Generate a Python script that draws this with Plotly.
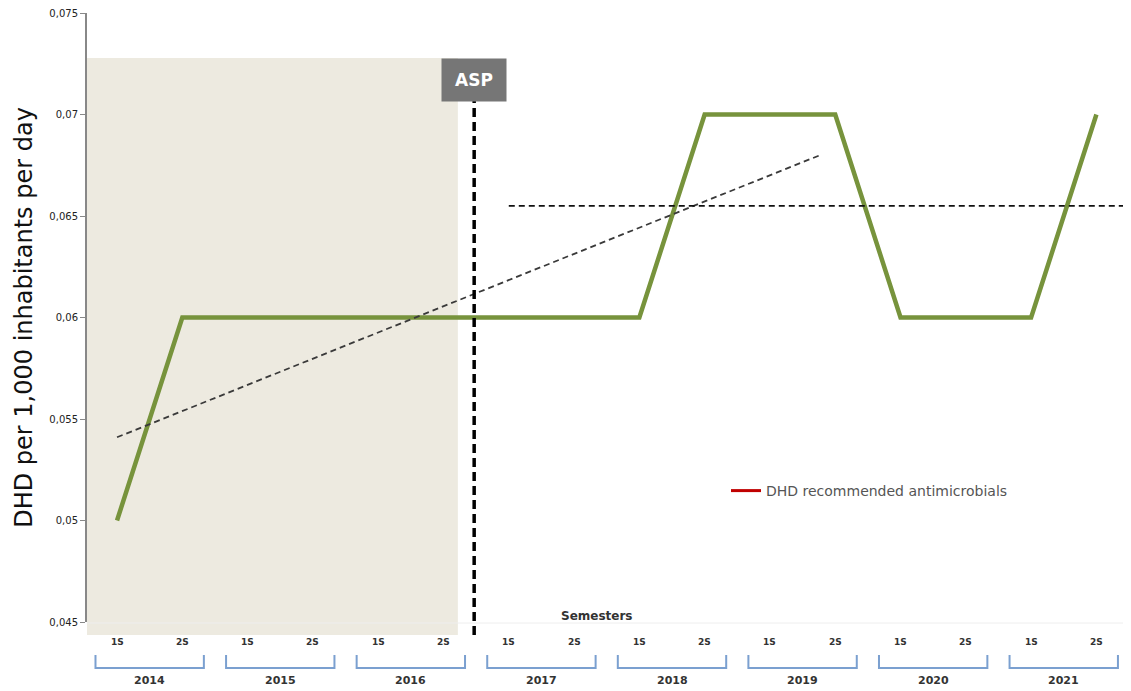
import plotly.graph_objects as go

years = ["2014", "2015", "2016", "2017", "2018", "2019", "2020", "2021"]
semesters = ["1S", "2S"]
dhd = [0.050, 0.060, 0.060, 0.060, 0.060, 0.060, 0.060, 0.060,
       0.060, 0.070, 0.070, 0.070, 0.060, 0.060, 0.060, 0.070]
y_ticks = [0.045, 0.05, 0.055, 0.06, 0.065, 0.07, 0.075]
y_ticktext = ["0,045", "0,05", "0,055", "0,06", "0,065", "0,07", "0,075"]
trend_x = [0, 10.77]
trend_y = [0.0541, 0.0680]
threshold_x = [6, 15.6]
threshold_y = [0.0655, 0.0655]
asp_x = 5.47
shade_x = [-0.46, 5.22]

OFF = 8  # default page body margin
W, H = 1131 - OFF, 691 - OFF
L, R, T, B = 87 - OFF, 0, 13 - OFF, 69
PH = H - T - B
PW = W - L - R

def py(px):
    return (H - B - (px - OFF)) / PH

def pxx(px):
    return (px - OFF - L) / PW

idx = list(range(len(dhd)))
FONT = "DejaVu Sans"

fig = go.Figure()
fig.add_trace(go.Scatter(x=idx, y=dhd, mode="lines",
                         line=dict(color="#77933C", width=4.5),
                         showlegend=False, hoverinfo="skip"))
fig.add_trace(go.Scatter(x=trend_x, y=trend_y, mode="lines",
                         line=dict(color="#3a3a3a", width=1.8, dash="6px,4px"),
                         showlegend=False))
fig.add_trace(go.Scatter(x=threshold_x, y=threshold_y, mode="lines",
                         line=dict(color="#111111", width=1.6, dash="6px,4px"),
                         showlegend=False))
fig.add_trace(go.Scatter(x=[None], y=[None], mode="lines",
                         line=dict(color="#C00000", width=3),
                         name="DHD recommended antimicrobials"))

shapes = []
shapes.append(dict(type="rect", xref="x", yref="paper", x0=shade_x[0], x1=shade_x[1],
                   y0=py(635), y1=py(58), fillcolor="#EDEAE0", line=dict(width=0), layer="below"))
shapes.append(dict(type="line", xref="x", yref="paper", x0=asp_x, x1=asp_x,
                   y0=py(635), y1=py(101), line=dict(color="black", width=3.5, dash="9px,5px")))
shapes.append(dict(type="line", xref="paper", yref="paper", x0=0, x1=1, y0=py(623), y1=py(623),
                   line=dict(color="#EEEEEE", width=1)))

annotations = []
for i, yr in enumerate(years):
    c = 2 * i + 0.5
    x0, x1 = c - 0.83, c + 0.83
    yt, yb = py(655), py(668)
    shapes.append(dict(type="path", xref="x", yref="paper",
                       path=f"M {x0},{yt} L {x0},{yb} L {x1},{yb} L {x1},{yt}",
                       line=dict(color="#7BA0D0", width=2)))
    annotations.append(dict(x=c, y=py(680), xref="x", yref="paper", text=f"<b>{yr}</b>",
                            xanchor="center", yanchor="middle",
                            showarrow=False, font=dict(size=11, color="#333333", family=FONT)))
    for j, s in enumerate(semesters):
        annotations.append(dict(x=2 * i + j, y=py(642), xref="x", yref="paper", text=f"<b>{s}</b>",
                                xanchor="center", yanchor="middle",
                                showarrow=False, font=dict(size=9, color="#333333", family=FONT)))

annotations.append(dict(x=asp_x, y=py(80), xref="x", yref="paper", text="<b>ASP</b>",
                        xanchor="center", yanchor="middle",
                        showarrow=False, bgcolor="#767676", width=62, height=40,
                        font=dict(size=17, color="white", family=FONT)))
annotations.append(dict(x=7.35, y=py(616), xref="x", yref="paper", text="<b>Semesters</b>",
                        xanchor="center", yanchor="middle",
                        showarrow=False, font=dict(size=12, color="#333333", family=FONT)))

fig.update_layout(
    width=W, height=H,
    margin=dict(l=L, r=R, t=T, b=B),
    paper_bgcolor="white", plot_bgcolor="white",
    shapes=shapes, annotations=annotations,
    legend=dict(x=pxx(726), y=py(491), xanchor="left", yanchor="middle",
                font=dict(size=14, color="#555555", family=FONT),
                bgcolor="rgba(0,0,0,0)"),
    xaxis=dict(range=[-0.46, 15.53], showticklabels=False, showgrid=False,
               zeroline=False, showline=False, ticks="", automargin=False),
    yaxis=dict(range=[0.045, 0.075], tickvals=y_ticks, ticktext=y_ticktext, showgrid=False,
               zeroline=False, showline=True, linecolor="#888888", linewidth=2,
               ticks="outside", ticklen=5, tickcolor="#888888", automargin=False,
               ticklabeloverflow="allow",
               tickfont=dict(size=10, color="#222222", family=FONT),
               title=dict(text="DHD per 1,000 inhabitants per day",
                          font=dict(size=24, color="#111111", family=FONT), standoff=10)),
)

fig.write_html("out.html")
